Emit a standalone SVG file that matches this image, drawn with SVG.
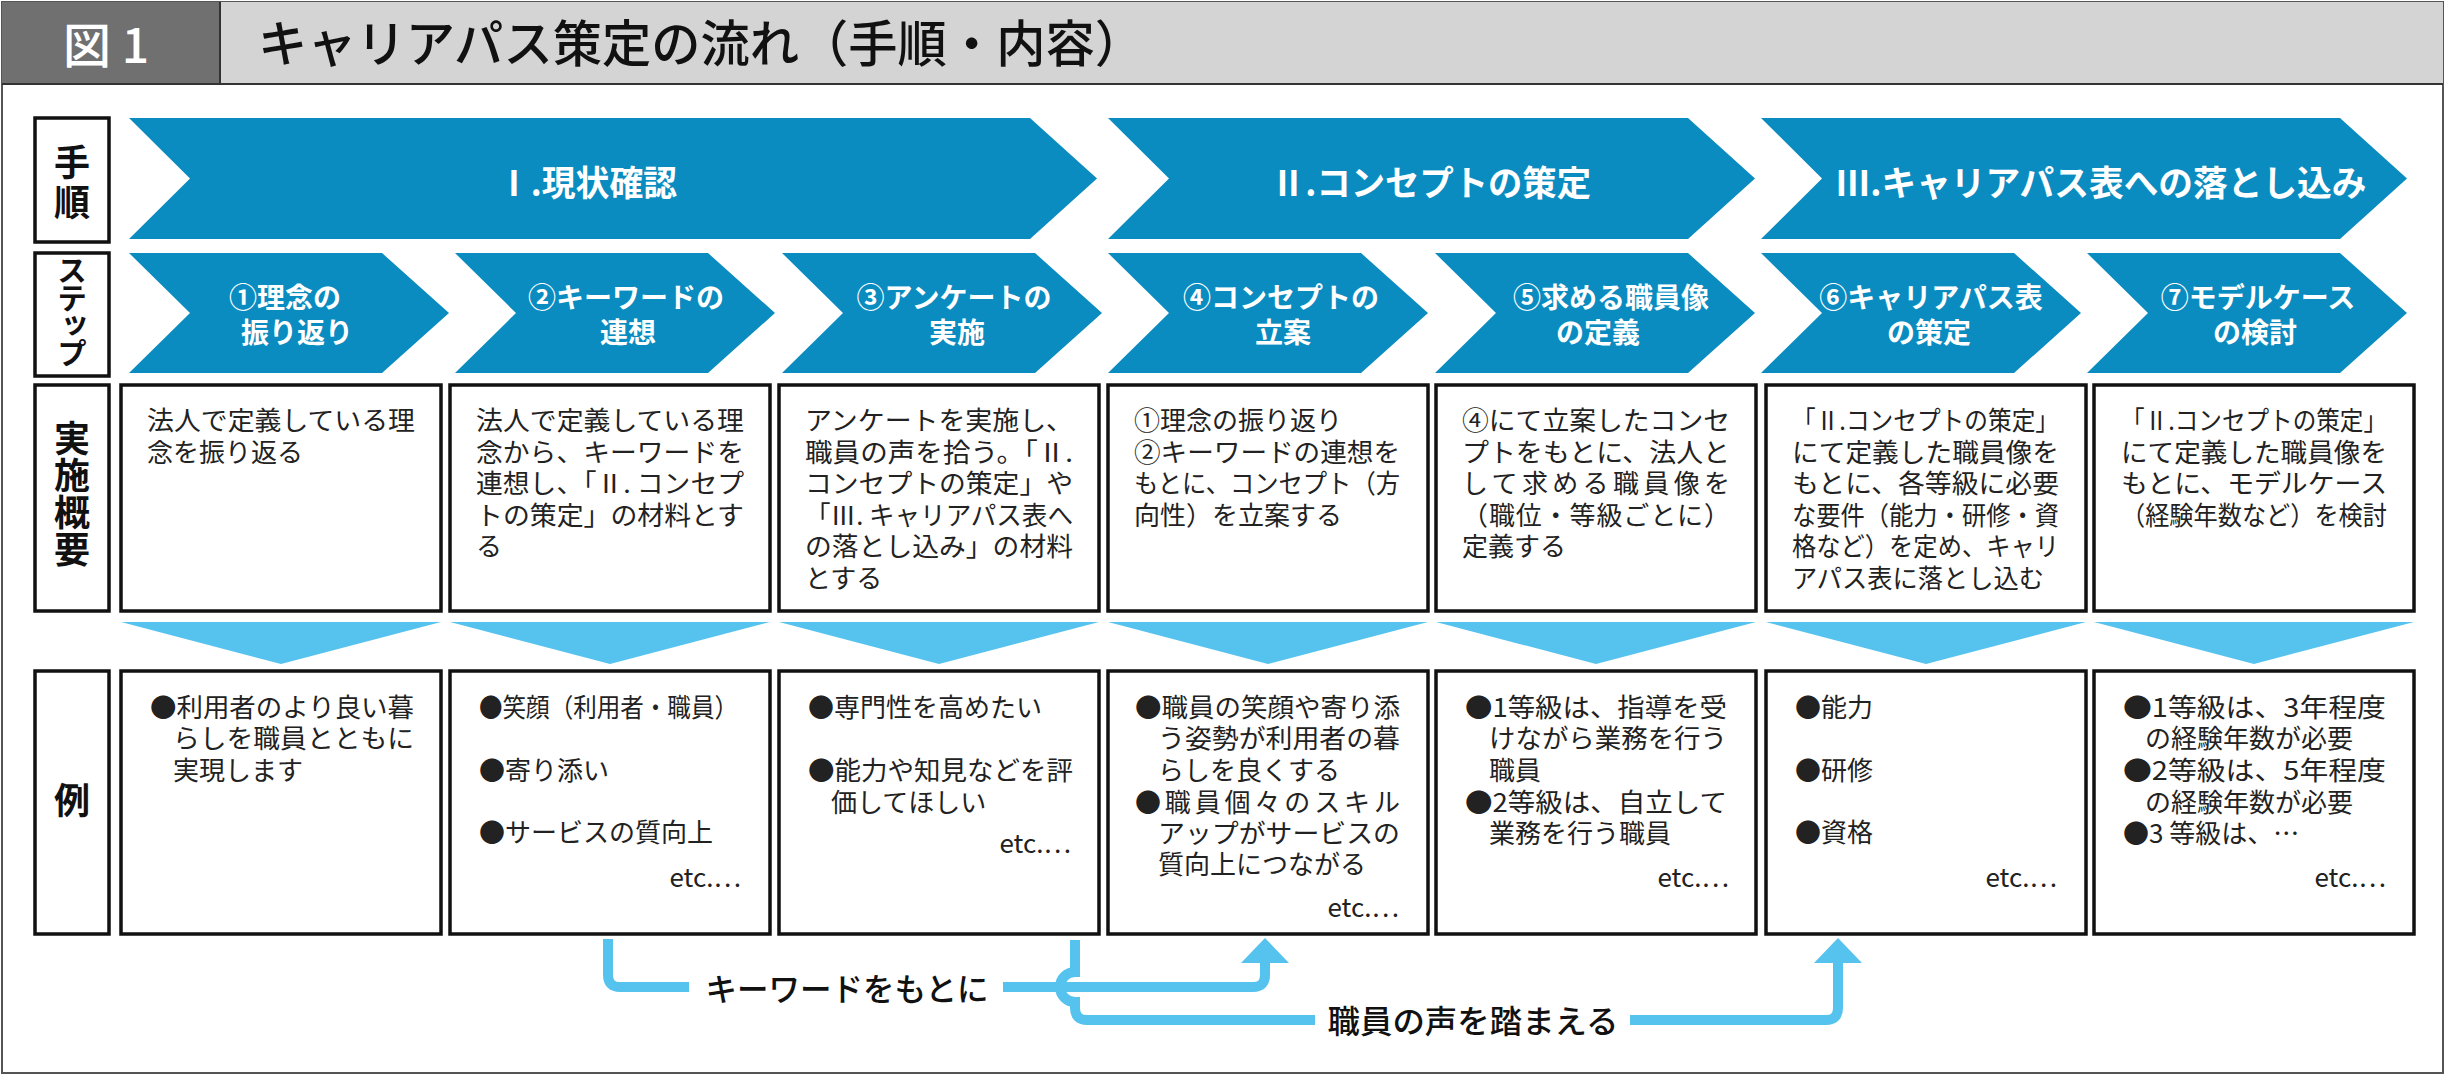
<svg xmlns="http://www.w3.org/2000/svg" width="2447" height="1078" viewBox="0 0 2447 1078">
<defs>
<style>
text{font-family:"Noto Sans CJK JP","Noto Sans",sans-serif}
.chev{fill:#0b8cc0}
.tri{fill:#56c3ef}
.box{fill:#fff;stroke:#111;stroke-width:3.5}
.lbl{font-size:36px;font-weight:700;fill:#111;text-anchor:middle}
.vlbl{font-weight:700;fill:#111;text-anchor:middle;writing-mode:vertical-rl}
.big{font-size:35px;font-weight:700;fill:#fff;text-anchor:middle}
.step{font-size:28px;font-weight:700;fill:#fff;text-anchor:middle}
.txt{font-size:26px;fill:#222}
.etc{font-size:26px;fill:#222;text-anchor:end}
.conn{fill:none;stroke:#56c3ef;stroke-width:10}
.clbl{font-size:32px;font-weight:500;fill:#111;text-anchor:middle}
</style>
<marker id="ah" markerUnits="userSpaceOnUse" markerWidth="26" markerHeight="48" viewBox="0 0 24 46" refX="0" refY="23" orient="auto">
<path d="M0,0 L24,23 L0,46 Z" fill="#56c3ef"/>
</marker>
</defs>

<g id="frame">
<rect x="2" y="2" width="2441" height="1071" fill="#fff" stroke="#555" stroke-width="2"/>
<rect x="2" y="2" width="218" height="82" fill="#707070"/>
<rect x="220" y="2" width="2223" height="82" fill="#d4d4d4"/>
<line x1="220" y1="2" x2="220" y2="84" stroke="#333" stroke-width="2"/>
<line x1="2" y1="84" x2="2443" y2="84" stroke="#333" stroke-width="2"/>
<text x="106" y="63" font-size="48" font-weight="500" fill="#fff" text-anchor="middle">図 1</text>
<text x="258" y="62" font-size="50" font-weight="500" fill="#111" textLength="886" lengthAdjust="spacingAndGlyphs">キャリアパス策定の流れ（手順・内容）</text>
</g>

<g id="row-labels">
<g id="label-tejun">
<rect class="box" x="35" y="118" width="74" height="124"/>
<text class="vlbl" x="72" y="184" font-size="36" letter-spacing="4">手順</text>
</g>
<g id="label-step">
<rect class="box" x="35" y="253" width="74" height="123"/>
<text class="vlbl" x="72" y="310" font-size="30" letter-spacing="-2.3">ステップ</text>
</g>
<g id="label-gaiyo">
<rect class="box" x="35" y="385" width="74" height="226"/>
<text class="vlbl" x="72" y="494" font-size="36" letter-spacing="1">実施概要</text>
</g>
<g id="label-rei">
<rect class="box" x="35" y="671" width="74" height="263"/>
<text class="lbl" x="72" y="814">例</text>
</g>
</g>

<g id="phases">
<g id="phase1">
<path class="chev" d="M129,118 H1030 L1097,178.5 L1030,239 H129 L190,178.5 Z"/>
<text class="big" x="587" y="196" textLength="180" lengthAdjust="spacingAndGlyphs">Ⅰ.現状確認</text>
</g>
<g id="phase2">
<path class="chev" d="M1108,118 H1688 L1755,178.5 L1688,239 H1108 L1169,178.5 Z"/>
<text class="big" x="1431" y="196" textLength="320" lengthAdjust="spacingAndGlyphs">Ⅱ.コンセプトの策定</text>
</g>
<g id="phase3">
<path class="chev" d="M1761,118 H2340 L2407,178.5 L2340,239 H1761 L1822,178.5 Z"/>
<text class="big" x="2101" y="196" textLength="531" lengthAdjust="spacingAndGlyphs">Ⅲ.キャリアパス表への落とし込み</text>
</g>
</g>

<g id="steps">
<g id="step1">
<path class="chev" d="M129,253 H382 L449,313 L382,373 H129 L190,313 Z"/>
<text class="step"><tspan x="285" y="308">①理念の</tspan><tspan x="297" y="343">振り返り</tspan></text>
</g>
<g id="step2">
<path class="chev" d="M455,253 H708 L775,313 L708,373 H455 L516,313 Z"/>
<text class="step"><tspan x="626" y="308">②キーワードの</tspan><tspan x="628" y="343">連想</tspan></text>
</g>
<g id="step3">
<path class="chev" d="M782,253 H1035 L1102,313 L1035,373 H782 L843,313 Z"/>
<text class="step"><tspan x="954" y="308">③アンケートの</tspan><tspan x="957" y="343">実施</tspan></text>
</g>
<g id="step4">
<path class="chev" d="M1108,253 H1361 L1428,313 L1361,373 H1108 L1169,313 Z"/>
<text class="step"><tspan x="1281" y="308">④コンセプトの</tspan><tspan x="1283" y="343">立案</tspan></text>
</g>
<g id="step5">
<path class="chev" d="M1435,253 H1688 L1755,313 L1688,373 H1435 L1496,313 Z"/>
<text class="step"><tspan x="1611" y="308">⑤求める職員像</tspan><tspan x="1598" y="343">の定義</tspan></text>
</g>
<g id="step6">
<path class="chev" d="M1761,253 H2014 L2081,313 L2014,373 H1761 L1822,313 Z"/>
<text class="step"><tspan x="1931" y="308">⑥キャリアパス表</tspan><tspan x="1929" y="343">の策定</tspan></text>
</g>
<g id="step7">
<path class="chev" d="M2087,253 H2340 L2407,313 L2340,373 H2087 L2148,313 Z"/>
<text class="step"><tspan x="2258" y="308">⑦モデルケース</tspan><tspan x="2255" y="343">の検討</tspan></text>
</g>
</g>

<g id="overview">
<g id="ov1">
<rect class="box" x="121" y="385" width="320" height="226"/>
<text class="txt"><tspan x="147" y="430" textLength="268" lengthAdjust="spacingAndGlyphs">法人で定義している理</tspan><tspan x="147" y="462">念を振り返る</tspan></text>
</g>
<g id="ov2">
<rect class="box" x="450" y="385" width="320" height="226"/>
<text class="txt"><tspan x="476" y="430" textLength="268" lengthAdjust="spacingAndGlyphs">法人で定義している理</tspan><tspan x="476" y="462" textLength="268" lengthAdjust="spacingAndGlyphs">念から、キーワードを</tspan><tspan x="476" y="493" textLength="268" lengthAdjust="spacingAndGlyphs">連想し、「Ⅱ. コンセプ</tspan><tspan x="476" y="525" textLength="268" lengthAdjust="spacingAndGlyphs">トの策定」の材料とす</tspan><tspan x="476" y="556">る</tspan></text>
</g>
<g id="ov3">
<rect class="box" x="779" y="385" width="320" height="226"/>
<text class="txt"><tspan x="805" y="430" textLength="268" lengthAdjust="spacingAndGlyphs">アンケートを実施し、</tspan><tspan x="805" y="462" textLength="268" lengthAdjust="spacingAndGlyphs">職員の声を拾う。「Ⅱ.</tspan><tspan x="805" y="493" textLength="268" lengthAdjust="spacingAndGlyphs">コンセプトの策定」や</tspan><tspan x="805" y="525" textLength="268" lengthAdjust="spacingAndGlyphs">「Ⅲ. キャリアパス表へ</tspan><tspan x="805" y="556" textLength="268" lengthAdjust="spacingAndGlyphs">の落とし込み」の材料</tspan><tspan x="805" y="588">とする</tspan></text>
</g>
<g id="ov4">
<rect class="box" x="1108" y="385" width="320" height="226"/>
<text class="txt"><tspan x="1134" y="430">①理念の振り返り</tspan><tspan x="1134" y="462" textLength="266" lengthAdjust="spacingAndGlyphs">②キーワードの連想を</tspan><tspan x="1134" y="493" textLength="266" lengthAdjust="spacingAndGlyphs">もとに、コンセプト（方</tspan><tspan x="1134" y="525">向性）を立案する</tspan></text>
</g>
<g id="ov5">
<rect class="box" x="1436" y="385" width="320" height="226"/>
<text class="txt"><tspan x="1462" y="430" textLength="268" lengthAdjust="spacingAndGlyphs">④にて立案したコンセ</tspan><tspan x="1462" y="462" textLength="268" lengthAdjust="spacingAndGlyphs">プトをもとに、法人と</tspan><tspan x="1462" y="493" textLength="268" lengthAdjust="spacing">して求める職員像を</tspan><tspan x="1462" y="525" textLength="268" lengthAdjust="spacing">（職位・等級ごとに）</tspan><tspan x="1462" y="556">定義する</tspan></text>
</g>
<g id="ov6">
<rect class="box" x="1766" y="385" width="320" height="226"/>
<text class="txt"><tspan x="1792" y="430" textLength="267" lengthAdjust="spacingAndGlyphs">「Ⅱ.コンセプトの策定」</tspan><tspan x="1792" y="462" textLength="267" lengthAdjust="spacingAndGlyphs">にて定義した職員像を</tspan><tspan x="1792" y="493" textLength="267" lengthAdjust="spacingAndGlyphs">もとに、各等級に必要</tspan><tspan x="1792" y="525" textLength="267" lengthAdjust="spacingAndGlyphs">な要件（能力・研修・資</tspan><tspan x="1792" y="556" textLength="267" lengthAdjust="spacingAndGlyphs">格など）を定め、キャリ</tspan><tspan x="1792" y="588" textLength="252" lengthAdjust="spacingAndGlyphs">アパス表に落とし込む</tspan></text>
</g>
<g id="ov7">
<rect class="box" x="2094" y="385" width="320" height="226"/>
<text class="txt"><tspan x="2121" y="430" textLength="266" lengthAdjust="spacingAndGlyphs">「Ⅱ.コンセプトの策定」</tspan><tspan x="2121" y="462" textLength="266" lengthAdjust="spacingAndGlyphs">にて定義した職員像を</tspan><tspan x="2121" y="493" textLength="266" lengthAdjust="spacingAndGlyphs">もとに、モデルケース</tspan><tspan x="2121" y="525" textLength="266" lengthAdjust="spacingAndGlyphs">（経験年数など）を検討</tspan></text>
</g>
</g>

<g id="down-arrows">
<path class="tri" d="M121,622 H441 L281,664 Z"/>
<path class="tri" d="M450,622 H770 L610,664 Z"/>
<path class="tri" d="M779,622 H1099 L939,664 Z"/>
<path class="tri" d="M1108,622 H1428 L1268,664 Z"/>
<path class="tri" d="M1436,622 H1756 L1596,664 Z"/>
<path class="tri" d="M1766,622 H2086 L1926,664 Z"/>
<path class="tri" d="M2094,622 H2414 L2254,664 Z"/>
</g>

<g id="examples">
<g id="ex1">
<rect class="box" x="121" y="671" width="320" height="263"/>
<text class="txt"><tspan x="150" y="717" textLength="264" lengthAdjust="spacingAndGlyphs">●利用者のより良い暮</tspan><tspan x="173" y="748" textLength="241" lengthAdjust="spacingAndGlyphs">らしを職員とともに</tspan><tspan x="173" y="780">実現します</tspan></text>
</g>
<g id="ex2">
<rect class="box" x="450" y="671" width="320" height="263"/>
<text class="txt"><tspan x="479" y="717" textLength="259" lengthAdjust="spacingAndGlyphs">●笑顔（利用者・職員）</tspan><tspan x="479" y="780">●寄り添い</tspan><tspan x="479" y="842">●サービスの質向上</tspan></text>
<text class="etc" x="741" y="887">etc.…</text>
</g>
<g id="ex3">
<rect class="box" x="779" y="671" width="320" height="263"/>
<text class="txt"><tspan x="808" y="717">●専門性を高めたい</tspan><tspan x="808" y="780" textLength="265" lengthAdjust="spacingAndGlyphs">●能力や知見などを評</tspan><tspan x="831" y="812">価してほしい</tspan></text>
<text class="etc" x="1071" y="853">etc.…</text>
</g>
<g id="ex4">
<rect class="box" x="1108" y="671" width="320" height="263"/>
<text class="txt"><tspan x="1135" y="717" textLength="265" lengthAdjust="spacingAndGlyphs">●職員の笑顔や寄り添</tspan><tspan x="1158" y="748" textLength="242" lengthAdjust="spacingAndGlyphs">う姿勢が利用者の暮</tspan><tspan x="1158" y="780">らしを良くする</tspan><tspan x="1135" y="812" textLength="265" lengthAdjust="spacing">●職員個々のスキル</tspan><tspan x="1158" y="843" textLength="242" lengthAdjust="spacingAndGlyphs">アップがサービスの</tspan><tspan x="1158" y="874">質向上につながる</tspan></text>
<text class="etc" x="1399" y="917">etc.…</text>
</g>
<g id="ex5">
<rect class="box" x="1436" y="671" width="320" height="263"/>
<text class="txt"><tspan x="1465" y="717" textLength="262" lengthAdjust="spacingAndGlyphs">●1等級は、指導を受</tspan><tspan x="1489" y="748" textLength="238" lengthAdjust="spacingAndGlyphs">けながら業務を行う</tspan><tspan x="1489" y="780">職員</tspan><tspan x="1465" y="812" textLength="262" lengthAdjust="spacingAndGlyphs">●2等級は、自立して</tspan><tspan x="1489" y="843">業務を行う職員</tspan></text>
<text class="etc" x="1729" y="887">etc.…</text>
</g>
<g id="ex6">
<rect class="box" x="1766" y="671" width="320" height="263"/>
<text class="txt"><tspan x="1795" y="717">●能力</tspan><tspan x="1795" y="780">●研修</tspan><tspan x="1795" y="842">●資格</tspan></text>
<text class="etc" x="2057" y="887">etc.…</text>
</g>
<g id="ex7">
<rect class="box" x="2094" y="671" width="320" height="263"/>
<text class="txt"><tspan x="2123" y="717" textLength="263" lengthAdjust="spacingAndGlyphs">●1等級は、3年程度</tspan><tspan x="2145" y="748">の経験年数が必要</tspan><tspan x="2123" y="780" textLength="263" lengthAdjust="spacingAndGlyphs">●2等級は、5年程度</tspan><tspan x="2145" y="812">の経験年数が必要</tspan><tspan x="2123" y="843">●3 等級は、…</tspan></text>
<text class="etc" x="2386" y="887">etc.…</text>
</g>
</g>

<g id="connectors">
<path class="conn" d="M608,939 V975 Q608,987 620,987 H689"/>
<path class="conn" d="M1003,987 H1253 Q1265,987 1265,975 V963" marker-end="url(#ah)"/>
<path class="conn" d="M1075,940 V972 A15,15 0 0 0 1075,1002 V1008 Q1075,1020 1087,1020 H1315"/>
<path class="conn" d="M1630,1020 H1826 Q1838,1020 1838,1008 V963" marker-end="url(#ah)"/>
<text class="clbl" x="847" y="1001" textLength="283" lengthAdjust="spacingAndGlyphs">キーワードをもとに</text>
<text class="clbl" x="1473" y="1033" textLength="291" lengthAdjust="spacingAndGlyphs">職員の声を踏まえる</text>
</g>
</svg>
